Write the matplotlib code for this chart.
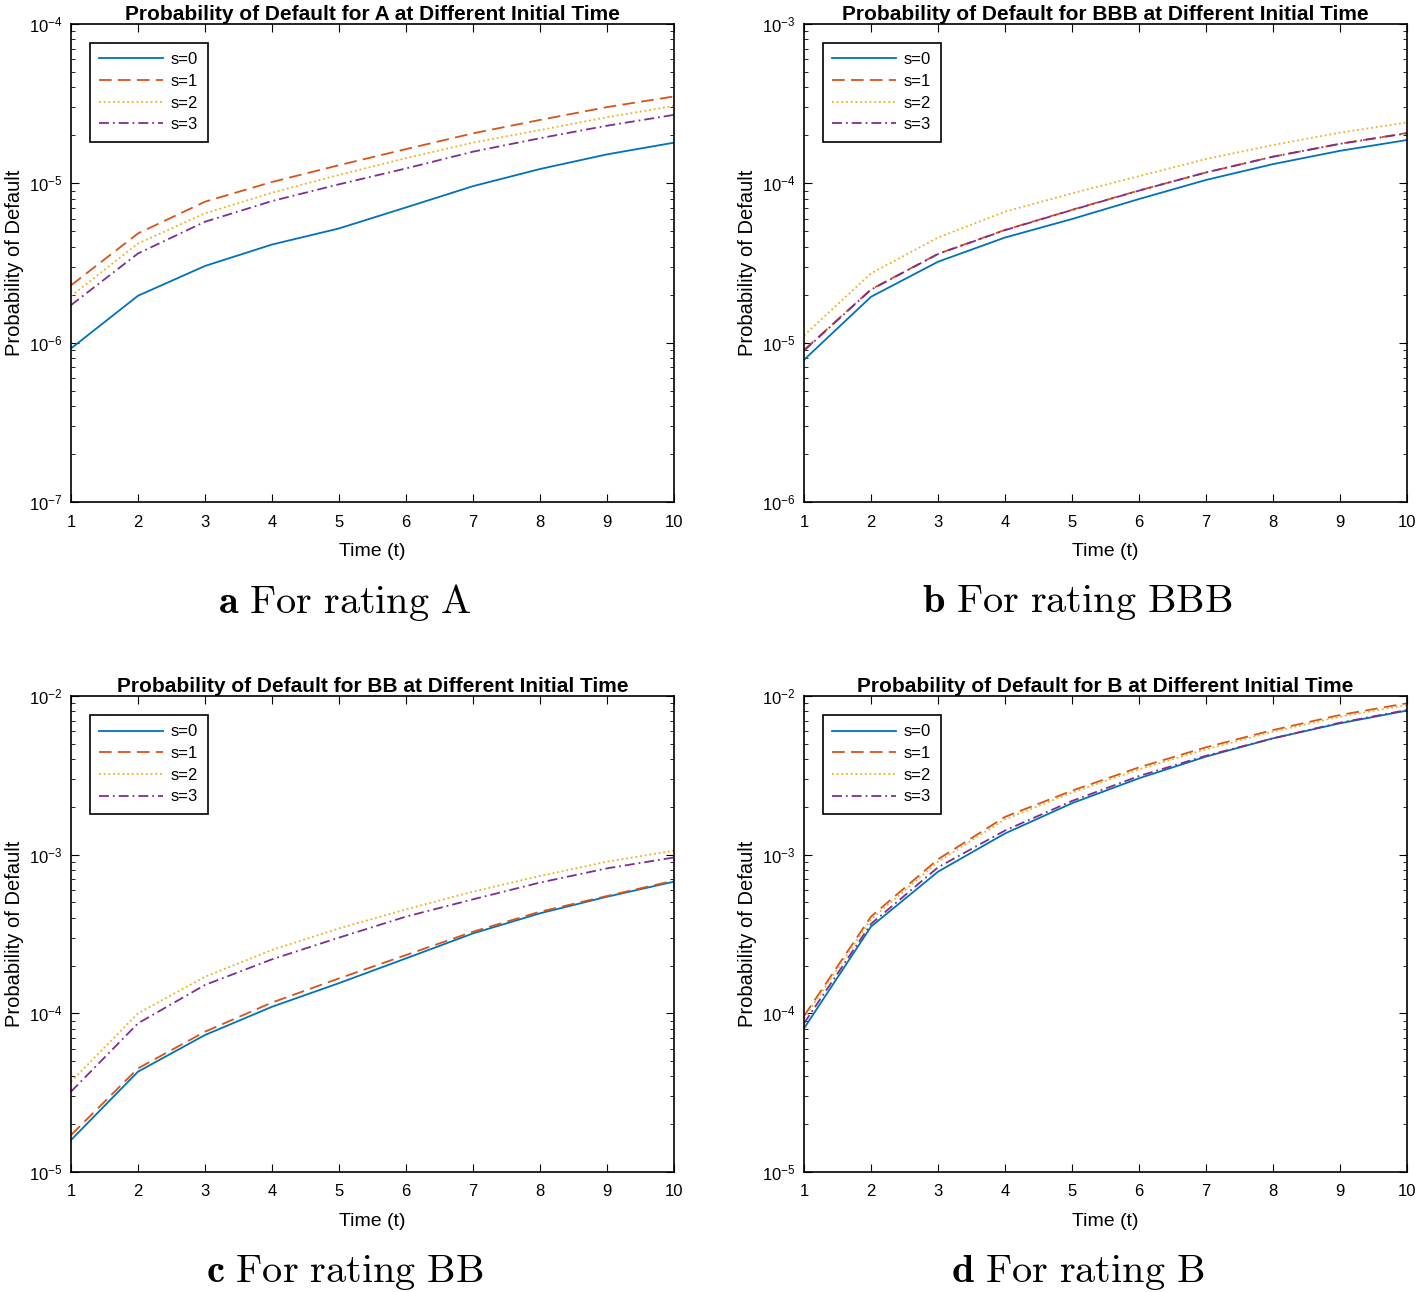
import numpy as np
import matplotlib
matplotlib.use("Agg")
import matplotlib.pyplot as plt

plt.rcParams['font.family'] = ['Liberation Sans', 'DejaVu Sans']
plt.rcParams['mathtext.fontset'] = 'cm'

t = np.arange(1, 11)
labels = ['s=0', 's=1', 's=2', 's=3']
colors = ['#0072BD', '#D95319', '#EDB120', '#7E2F8E']
styles = ['-', (0, (7, 3.5)), (0, (1, 1.6)), (0, (5.5, 2.2, 1, 2.2))]

# rating A
pd_A = [
    [9.2e-7, 1.97e-6, 3.03e-6, 4.13e-6, 5.21e-6, 7.06e-6, 9.6e-6, 1.23e-5, 1.52e-5, 1.80e-5],
    [2.29e-6, 4.85e-6, 7.67e-6, 1.02e-5, 1.30e-5, 1.64e-5, 2.06e-5, 2.50e-5, 3.01e-5, 3.51e-5],
    [1.96e-6, 4.19e-6, 6.48e-6, 8.73e-6, 1.13e-5, 1.44e-5, 1.80e-5, 2.16e-5, 2.60e-5, 3.06e-5],
    [1.72e-6, 3.63e-6, 5.74e-6, 7.74e-6, 9.86e-6, 1.24e-5, 1.58e-5, 1.92e-5, 2.30e-5, 2.69e-5],
]
# rating BBB
pd_BBB = [
    [7.8e-6, 1.94e-5, 3.22e-5, 4.57e-5, 5.97e-5, 7.97e-5, 1.05e-4, 1.32e-4, 1.60e-4, 1.87e-4],
    [9.0e-6, 2.16e-5, 3.61e-5, 5.10e-5, 6.82e-5, 9.02e-5, 1.17e-4, 1.47e-4, 1.77e-4, 2.07e-4],
    [1.11e-5, 2.72e-5, 4.57e-5, 6.64e-5, 8.65e-5, 1.11e-4, 1.42e-4, 1.74e-4, 2.08e-4, 2.41e-4],
    [8.9e-6, 2.15e-5, 3.60e-5, 5.08e-5, 6.80e-5, 9.0e-5, 1.17e-4, 1.47e-4, 1.77e-4, 2.06e-4],
]
# rating BB
pd_BB = [
    [1.59e-5, 4.29e-5, 7.3e-5, 1.10e-4, 1.55e-4, 2.22e-4, 3.19e-4, 4.27e-4, 5.43e-4, 6.76e-4],
    [1.71e-5, 4.5e-5, 7.66e-5, 1.17e-4, 1.66e-4, 2.33e-4, 3.27e-4, 4.37e-4, 5.49e-4, 6.86e-4],
    [3.71e-5, 1.0e-4, 1.70e-4, 2.51e-4, 3.43e-4, 4.52e-4, 5.85e-4, 7.34e-4, 9.03e-4, 1.06e-3],
    [3.21e-5, 8.65e-5, 1.51e-4, 2.19e-4, 3.0e-4, 4.07e-4, 5.23e-4, 6.67e-4, 8.2e-4, 9.6e-4],
]
# rating B
pd_B = [
    [8.04e-5, 3.52e-4, 7.81e-4, 1.36e-3, 2.11e-3, 3.03e-3, 4.15e-3, 5.41e-3, 6.73e-3, 8.09e-3],
    [9.62e-5, 4.07e-4, 9.35e-4, 1.73e-3, 2.53e-3, 3.55e-3, 4.75e-3, 6.10e-3, 7.59e-3, 9.0e-3],
    [9.3e-5, 3.91e-4, 9.03e-4, 1.67e-3, 2.46e-3, 3.45e-3, 4.61e-3, 5.96e-3, 7.41e-3, 8.77e-3],
    [8.65e-5, 3.66e-4, 8.32e-4, 1.42e-3, 2.18e-3, 3.13e-3, 4.20e-3, 5.41e-3, 6.79e-3, 8.16e-3],
]

panels = [
    ('A', pd_A, (1e-7, 1e-4), 'a', 'For rating A'),
    ('BBB', pd_BBB, (1e-6, 1e-3), 'b', 'For rating BBB'),
    ('BB', pd_BB, (1e-5, 1e-2), 'c', 'For rating BB'),
    ('B', pd_B, (1e-5, 1e-2), 'd', 'For rating B'),
]

W, H = 1424, 1292
fig = plt.figure(figsize=(W / 100, H / 100), dpi=100)

# axes boxes in pixels: left, top, right, bottom
boxes = [(71, 24, 674, 502), (804, 24, 1407, 502),
         (71, 696, 674, 1172), (804, 696, 1407, 1172)]


def sci(v, pos):
    e = int(round(np.log10(v)))
    return r'$\mathregular{10^{%d}}$' % e


for (name, data, ylim, letter, cap), (l, tp, r, b) in zip(panels, boxes):
    ax = fig.add_axes([l / W, 1 - b / H, (r - l) / W, (b - tp) / H])
    for i in range(4):
        ax.plot(t, data[i], color=colors[i], linestyle=styles[i], lw=1.3, label=labels[i])
    ax.set_yscale('log')
    ax.set_ylim(ylim)
    ax.set_xlim(1, 10)
    ax.set_xticks(t)
    ax.yaxis.set_major_formatter(plt.FuncFormatter(sci))
    ax.tick_params(which='both', direction='in', top=True, right=True, labelsize=12)
    ax.tick_params(axis='x', which='major', length=6, pad=9)
    ax.tick_params(axis='y', which='major', length=6, pad=6)
    ax.tick_params(which='minor', length=3)
    for sp in ax.spines.values():
        sp.set_linewidth(1.2)
    ax.set_xlabel('Time (t)', fontsize=14, labelpad=9.5)
    ax.set_ylabel('Probability of Default', fontsize=14.5, labelpad=4)
    ax.set_title('Probability of Default for %s at Different Initial Time' % name,
                 fontsize=15, fontweight='bold', pad=3)
    leg = ax.legend(loc='upper left', fontsize=12, handlelength=3.8, fancybox=False,
                    framealpha=1, edgecolor='black', borderaxespad=1.15, borderpad=0.55,
                    labelspacing=0.4, handletextpad=0.5)
    leg.get_frame().set_linewidth(1.2)
    fig.text(((l + r) / 2 - 28) / W, 1 - (b + 100) / H,
             r'$\mathbf{%s}\ \mathrm{%s}$' % (letter, cap.replace(' ', r'\ ')),
             fontsize=29, ha='center', va='center')

fig.savefig('out.png', dpi=100)
